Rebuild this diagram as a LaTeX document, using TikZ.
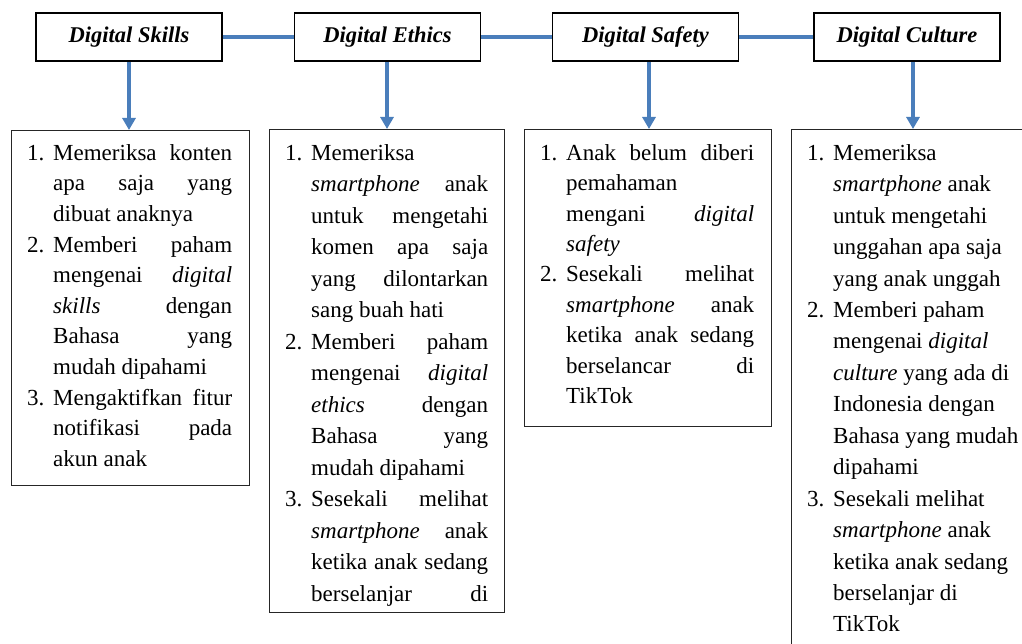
\documentclass[tikz,border=0pt]{standalone}
\usepackage{fontspec}
\setmainfont{Liberation Serif}
\usetikzlibrary{arrows.meta,calc}
\definecolor{linkblue}{RGB}{74,126,187}
% a justified line of given width (pt)
\newcommand\jl[2]{\makebox[#1pt][s]{#2}}
% hanging indent for continuation lines and the item number
\newcommand\ind{\hspace*{26pt}}
\newcommand\num[1]{\makebox[26pt][l]{#1}}
\newcommand\bodyfont[1]{\fontsize{23}{#1}\selectfont}
\begin{document}
\begin{tikzpicture}[x=1pt,y=-1pt,
  hdr/.style={draw=black, line width=1.8pt, minimum width=186pt, minimum height=48pt,
    inner sep=0pt, font=\fontsize{22.5}{27}\selectfont\bfseries\itshape},
  link/.style={draw=linkblue, line width=3.3pt},
  arr/.style={draw=linkblue, line width=3.3pt, -{Triangle[width=13pt,length=12pt]}},
  card/.style={draw=black!85, line width=1.1pt, inner sep=0pt, anchor=north west},
  body/.style={anchor=north west, inner sep=0pt, align=left}]
\path[use as bounding box, clip] (0,0) rectangle (1022,644);

% category headers
\node[hdr] (h1) at (129,37) {Digital Skills};
\node[hdr] (h2) at (387.5,37) {Digital Ethics};
\node[hdr] (h3) at (645.5,37) {Digital Safety};
\node[hdr] (h4) at (907,37) {Digital Culture};

% links between headers
\draw[link] (h1.east) -- (h2.west);
\draw[link] (h2.east) -- (h3.west);
\draw[link] (h3.east) -- (h4.west);

% detail boxes
\node[card, minimum width=238pt, minimum height=355pt] (b1) at (11,130) {};
\node[card, minimum width=235pt, minimum height=483pt] (b2) at (269,129) {};
\node[card, minimum width=247pt, minimum height=297pt] (b3) at (524,129) {};
\node[card, minimum width=249pt, minimum height=531pt] (b4) at (791,129) {};

% arrow columns
\coordinate (a1) at (129,0);
\coordinate (a2) at (387,0);
\coordinate (a3) at (649,0);
\coordinate (a4) at (913,0);
\draw[arr] (h1.south -| a1) -- (b1.north -| a1);
\draw[arr] (h2.south -| a2) -- (b2.north -| a2);
\draw[arr] (h3.south -| a3) -- (b3.north -| a3);
\draw[arr] (h4.south -| a4) -- (b4.north -| a4);

% box texts
\node[body, font=\bodyfont{30.6}] (t1) at (27,138.58) {%
\strut\num{1.}\jl{179}{Memeriksa konten}\\
\ind\jl{179}{apa saja yang}\\
\ind dibuat anaknya\\
\num{2.}\jl{179}{Memberi paham}\\
\ind\jl{179}{mengenai \textit{digital}}\\
\ind\jl{179}{\textit{skills} dengan}\\
\ind\jl{179}{Bahasa yang}\\
\ind mudah dipahami\\
\num{3.}\jl{179}{Mengaktifkan fitur}\\
\ind\jl{179}{notifikasi pada}\\
\ind akun anak};

\node[body, font=\bodyfont{31.5}] (t2) at (285,137.95) {%
\strut\num{1.}Memeriksa\\
\ind\jl{177}{\textit{smartphone} anak}\\
\ind\jl{177}{untuk mengetahi}\\
\ind\jl{177}{komen apa saja}\\
\ind\jl{177}{yang dilontarkan}\\
\ind sang buah hati\\
\num{2.}\jl{177}{Memberi paham}\\
\ind\jl{177}{mengenai \textit{digital}}\\
\ind\jl{177}{\textit{ethics} dengan}\\
\ind\jl{177}{Bahasa yang}\\
\ind mudah dipahami\\
\num{3.}\jl{177}{Sesekali melihat}\\
\ind\jl{177}{\textit{smartphone} anak}\\
\ind\jl{177}{ketika anak sedang}\\
\ind\jl{177}{berselanjar di}};

\node[body, font=\bodyfont{30.4}] (t3) at (540,138.72) {%
\strut\num{1.}\jl{188}{Anak belum diberi}\\
\ind pemahaman\\
\ind\jl{188}{mengani \textit{digital}}\\
\ind\textit{safety}\\
\num{2.}\jl{188}{Sesekali melihat}\\
\ind\jl{188}{\textit{smartphone} anak}\\
\ind\jl{188}{ketika anak sedang}\\
\ind\jl{188}{berselancar di}\\
\ind TikTok};

\node[body, font=\bodyfont{31.45}] (t4) at (807,137.99) {%
\strut\num{1.}Memeriksa\\
\ind\textit{smartphone} anak\\
\ind untuk mengetahi\\
\ind unggahan apa saja\\
\ind yang anak unggah\\
\num{2.}Memberi paham\\
\ind mengenai \textit{digital}\\
\ind\textit{culture} yang ada di\\
\ind Indonesia dengan\\
\ind Bahasa yang mudah\\
\ind dipahami\\
\num{3.}Sesekali melihat\\
\ind\textit{smartphone} anak\\
\ind ketika anak sedang\\
\ind berselanjar di\\
\ind TikTok};
\end{tikzpicture}
\end{document}
